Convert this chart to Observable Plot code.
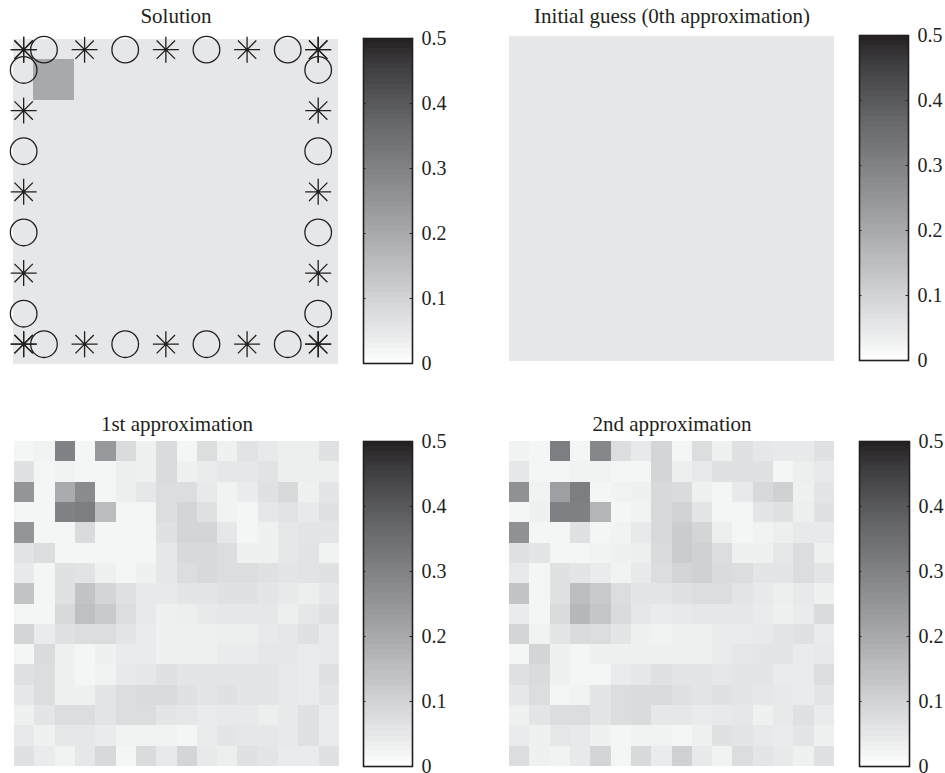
<!DOCTYPE html>
<html><head><meta charset="utf-8">
<script src="https://cdn.jsdelivr.net/npm/d3@7"></script>
<script src="https://cdn.jsdelivr.net/npm/@observablehq/plot@0.6"></script>
<style>
body{margin:0;background:#fff;}
#root{position:relative;width:945px;height:773px;overflow:hidden;}
</style></head><body><div id="root"></div>
<script>
// ---------- data ----------
const panelTitles = ["Solution", "Initial guess (0th approximation)", "1st approximation", "2nd approximation"];
const colorTicks = [0, 0.1, 0.2, 0.3, 0.4, 0.5];
const colorTickLabels = ["0", "0.1", "0.2", "0.3", "0.4", "0.5"];
// gray ramp (0% .. 100% black in 5% steps) mapped onto 0 .. 0.5
const grayRamp = ["#ffffff","#f1f2f2","#e6e7e8","#dcddde","#d1d3d4","#c7c8ca","#bcbec0","#b1b3b6","#a7a9ac","#9d9fa2","#939598","#898b8e","#808285","#77787b","#6d6e71","#636466","#58595b","#4d4d4f","#414042","#333132","#231f20"];

const solution = [
[0.05,0.05,0.05,0.05,0.05,0.05,0.05,0.05,0.05,0.05,0.05,0.05,0.05,0.05,0.05,0.05],
[0.05,0.2,0.2,0.05,0.05,0.05,0.05,0.05,0.05,0.05,0.05,0.05,0.05,0.05,0.05,0.05],
[0.05,0.2,0.2,0.05,0.05,0.05,0.05,0.05,0.05,0.05,0.05,0.05,0.05,0.05,0.05,0.05],
[0.05,0.05,0.05,0.05,0.05,0.05,0.05,0.05,0.05,0.05,0.05,0.05,0.05,0.05,0.05,0.05],
[0.05,0.05,0.05,0.05,0.05,0.05,0.05,0.05,0.05,0.05,0.05,0.05,0.05,0.05,0.05,0.05],
[0.05,0.05,0.05,0.05,0.05,0.05,0.05,0.05,0.05,0.05,0.05,0.05,0.05,0.05,0.05,0.05],
[0.05,0.05,0.05,0.05,0.05,0.05,0.05,0.05,0.05,0.05,0.05,0.05,0.05,0.05,0.05,0.05],
[0.05,0.05,0.05,0.05,0.05,0.05,0.05,0.05,0.05,0.05,0.05,0.05,0.05,0.05,0.05,0.05],
[0.05,0.05,0.05,0.05,0.05,0.05,0.05,0.05,0.05,0.05,0.05,0.05,0.05,0.05,0.05,0.05],
[0.05,0.05,0.05,0.05,0.05,0.05,0.05,0.05,0.05,0.05,0.05,0.05,0.05,0.05,0.05,0.05],
[0.05,0.05,0.05,0.05,0.05,0.05,0.05,0.05,0.05,0.05,0.05,0.05,0.05,0.05,0.05,0.05],
[0.05,0.05,0.05,0.05,0.05,0.05,0.05,0.05,0.05,0.05,0.05,0.05,0.05,0.05,0.05,0.05],
[0.05,0.05,0.05,0.05,0.05,0.05,0.05,0.05,0.05,0.05,0.05,0.05,0.05,0.05,0.05,0.05],
[0.05,0.05,0.05,0.05,0.05,0.05,0.05,0.05,0.05,0.05,0.05,0.05,0.05,0.05,0.05,0.05],
[0.05,0.05,0.05,0.05,0.05,0.05,0.05,0.05,0.05,0.05,0.05,0.05,0.05,0.05,0.05,0.05],
[0.05,0.05,0.05,0.05,0.05,0.05,0.05,0.05,0.05,0.05,0.05,0.05,0.05,0.05,0.05,0.05]
];

const initialGuess = [
[0.05,0.05,0.05,0.05,0.05,0.05,0.05,0.05,0.05,0.05,0.05,0.05,0.05,0.05,0.05,0.05],
[0.05,0.05,0.05,0.05,0.05,0.05,0.05,0.05,0.05,0.05,0.05,0.05,0.05,0.05,0.05,0.05],
[0.05,0.05,0.05,0.05,0.05,0.05,0.05,0.05,0.05,0.05,0.05,0.05,0.05,0.05,0.05,0.05],
[0.05,0.05,0.05,0.05,0.05,0.05,0.05,0.05,0.05,0.05,0.05,0.05,0.05,0.05,0.05,0.05],
[0.05,0.05,0.05,0.05,0.05,0.05,0.05,0.05,0.05,0.05,0.05,0.05,0.05,0.05,0.05,0.05],
[0.05,0.05,0.05,0.05,0.05,0.05,0.05,0.05,0.05,0.05,0.05,0.05,0.05,0.05,0.05,0.05],
[0.05,0.05,0.05,0.05,0.05,0.05,0.05,0.05,0.05,0.05,0.05,0.05,0.05,0.05,0.05,0.05],
[0.05,0.05,0.05,0.05,0.05,0.05,0.05,0.05,0.05,0.05,0.05,0.05,0.05,0.05,0.05,0.05],
[0.05,0.05,0.05,0.05,0.05,0.05,0.05,0.05,0.05,0.05,0.05,0.05,0.05,0.05,0.05,0.05],
[0.05,0.05,0.05,0.05,0.05,0.05,0.05,0.05,0.05,0.05,0.05,0.05,0.05,0.05,0.05,0.05],
[0.05,0.05,0.05,0.05,0.05,0.05,0.05,0.05,0.05,0.05,0.05,0.05,0.05,0.05,0.05,0.05],
[0.05,0.05,0.05,0.05,0.05,0.05,0.05,0.05,0.05,0.05,0.05,0.05,0.05,0.05,0.05,0.05],
[0.05,0.05,0.05,0.05,0.05,0.05,0.05,0.05,0.05,0.05,0.05,0.05,0.05,0.05,0.05,0.05],
[0.05,0.05,0.05,0.05,0.05,0.05,0.05,0.05,0.05,0.05,0.05,0.05,0.05,0.05,0.05,0.05],
[0.05,0.05,0.05,0.05,0.05,0.05,0.05,0.05,0.05,0.05,0.05,0.05,0.05,0.05,0.05,0.05],
[0.05,0.05,0.05,0.05,0.05,0.05,0.05,0.05,0.05,0.05,0.05,0.05,0.05,0.05,0.05,0.05]
];

const approx1 = [
[0.02,0.025,0.3,0.02,0.24,0.08,0.03,0.08,0.02,0.075,0.03,0.06,0.045,0.035,0.035,0.065],
[0.065,0.02,0.025,0.02,0.02,0.035,0.03,0.08,0.03,0.04,0.05,0.05,0.06,0.035,0.035,0.035],
[0.25,0.02,0.195,0.275,0.02,0.035,0.05,0.075,0.075,0.045,0.025,0.04,0.065,0.085,0.03,0.055],
[0.02,0.02,0.3,0.31,0.155,0.02,0.02,0.075,0.095,0.065,0.025,0.02,0.05,0.06,0.045,0.065],
[0.25,0.02,0.02,0.08,0.02,0.02,0.02,0.065,0.095,0.095,0.05,0.02,0.03,0.05,0.055,0.055],
[0.06,0.075,0.02,0.02,0.02,0.02,0.02,0.05,0.085,0.085,0.075,0.03,0.03,0.05,0.06,0.025],
[0.045,0.02,0.065,0.06,0.03,0.02,0.03,0.05,0.075,0.085,0.075,0.075,0.065,0.055,0.06,0.065],
[0.135,0.02,0.065,0.135,0.095,0.065,0.045,0.045,0.055,0.055,0.065,0.065,0.055,0.045,0.035,0.05],
[0.02,0.02,0.085,0.145,0.12,0.075,0.045,0.03,0.035,0.045,0.05,0.05,0.05,0.035,0.05,0.065],
[0.095,0.04,0.065,0.075,0.075,0.055,0.04,0.03,0.03,0.03,0.035,0.035,0.045,0.05,0.065,0.045],
[0.02,0.08,0.03,0.02,0.03,0.04,0.04,0.03,0.03,0.03,0.04,0.04,0.05,0.05,0.04,0.045],
[0.065,0.075,0.03,0.02,0.025,0.045,0.05,0.065,0.055,0.055,0.055,0.055,0.055,0.045,0.04,0.065],
[0.05,0.075,0.03,0.03,0.055,0.075,0.08,0.08,0.065,0.055,0.065,0.055,0.055,0.045,0.04,0.055],
[0.03,0.055,0.075,0.075,0.055,0.075,0.075,0.055,0.05,0.04,0.045,0.045,0.035,0.045,0.065,0.04],
[0.045,0.03,0.05,0.05,0.04,0.025,0.025,0.025,0.02,0.04,0.055,0.05,0.05,0.045,0.065,0.04],
[0.065,0.04,0.025,0.05,0.085,0.02,0.08,0.045,0.095,0.045,0.035,0.065,0.055,0.04,0.04,0.065]
];

const approx2 = [
[0.025,0.02,0.31,0.02,0.285,0.075,0.045,0.095,0.02,0.075,0.03,0.065,0.05,0.045,0.045,0.065],
[0.05,0.02,0.02,0.025,0.025,0.02,0.02,0.095,0.035,0.045,0.065,0.065,0.065,0.02,0.035,0.045],
[0.26,0.025,0.225,0.31,0.02,0.025,0.03,0.085,0.08,0.03,0.02,0.045,0.085,0.105,0.03,0.055],
[0.02,0.03,0.305,0.305,0.17,0.02,0.025,0.085,0.1,0.055,0.02,0.02,0.055,0.065,0.035,0.065],
[0.26,0.02,0.02,0.065,0.02,0.025,0.045,0.085,0.115,0.095,0.035,0.02,0.025,0.035,0.045,0.045],
[0.065,0.055,0.02,0.02,0.025,0.03,0.035,0.08,0.115,0.105,0.075,0.03,0.03,0.05,0.075,0.03],
[0.045,0.02,0.065,0.055,0.04,0.025,0.045,0.075,0.095,0.105,0.08,0.075,0.055,0.055,0.075,0.055],
[0.135,0.02,0.065,0.15,0.12,0.075,0.055,0.055,0.065,0.075,0.075,0.055,0.045,0.035,0.045,0.03],
[0.04,0.02,0.08,0.165,0.13,0.08,0.05,0.04,0.045,0.05,0.05,0.05,0.04,0.03,0.04,0.08],
[0.095,0.025,0.055,0.08,0.075,0.055,0.03,0.025,0.03,0.03,0.04,0.04,0.045,0.055,0.065,0.04],
[0.02,0.095,0.03,0.02,0.03,0.03,0.03,0.03,0.03,0.03,0.04,0.05,0.055,0.055,0.04,0.045],
[0.065,0.08,0.03,0.02,0.02,0.04,0.05,0.065,0.055,0.055,0.05,0.055,0.055,0.04,0.04,0.075],
[0.05,0.075,0.02,0.025,0.055,0.075,0.08,0.08,0.065,0.055,0.065,0.055,0.05,0.045,0.04,0.055],
[0.03,0.055,0.075,0.075,0.055,0.075,0.08,0.05,0.05,0.04,0.045,0.05,0.03,0.045,0.065,0.04],
[0.04,0.03,0.05,0.045,0.03,0.02,0.025,0.025,0.02,0.03,0.065,0.055,0.045,0.04,0.055,0.03],
[0.075,0.03,0.025,0.045,0.095,0.02,0.085,0.04,0.105,0.045,0.025,0.075,0.055,0.045,0.03,0.065]
];

// source / detector markers along each edge (grid units, 0..16)
const markerAlong = [0.5, 1.5, 3.5, 5.5, 7.5, 9.5, 11.5, 13.5, 15];
const markerKind  = ["asterisk","circle","asterisk","circle","asterisk","circle","asterisk","circle","asterisk"];
const edgeNear = 0.5, edgeFar = 15;

// ---------- layout ----------
const W = 945, H = 773;
const FONT = "'Liberation Serif', 'DejaVu Serif', serif";
const INK = "#231f20";
const panels = [
  {data: solution,     img: {x0: 13,  x1: 338, y0: 39,  y1: 364}, bar: {x0: 363, x1: 412, y0: 38,  y1: 363}, base: 22,  markers: true},
  {data: initialGuess, img: {x0: 509, x1: 834, y0: 36,  y1: 361}, bar: {x0: 859, x1: 908, y0: 35,  y1: 360}, base: 22,  markers: false},
  {data: approx1,      img: {x0: 14,  x1: 339, y0: 441, y1: 766}, bar: {x0: 363, x1: 412, y0: 441, y1: 766}, base: 430, markers: false},
  {data: approx2,      img: {x0: 509, x1: 834, y0: 441, y1: 766}, bar: {x0: 859, x1: 909, y0: 441, y1: 766}, base: 430, markers: false}
];

const colorScale = {type: "linear", domain: [0, 0.5], clamp: true,
  interpolate: d3.piecewise(d3.interpolateRgb, grayRamp)};

const cells = rows => rows.flatMap((r, i) => r.map((v, j) => ({row: i, col: j, v})));

const markers = [];
markerAlong.forEach((p, i) => {
  const k = markerKind[i];
  markers.push({x: p, y: edgeNear, k}, {x: p, y: edgeFar, k}, {x: edgeNear, y: p, k}, {x: edgeFar, y: p, k});
});

const asterisk = {
  draw(ctx, size) {
    const r = Math.sqrt(size / Math.PI), d = r * Math.SQRT1_2;
    ctx.moveTo(-r, 0); ctx.lineTo(r, 0);
    ctx.moveTo(0, -r); ctx.lineTo(0, r);
    ctx.moveTo(-d, -d); ctx.lineTo(d, d);
    ctx.moveTo(-d, d); ctx.lineTo(d, -d);
  }
};

const baseStyle = {position: "absolute", left: "0px", top: "0px", background: "transparent", overflow: "visible", fontFamily: FONT, fontSize: "20px", color: INK};

const root = document.getElementById("root");

// colorbar steps (64-level colormap)
const nLevels = 64;
const levels = d3.range(nLevels).map(i => ({lo: i * 0.5 / nLevels, hi: (i + 1) * 0.5 / nLevels, mid: (i + 0.5) * 0.5 / nLevels}));
const innerTicks = colorTicks.slice(1, -1);

panels.forEach((p, idx) => {
  const b = p.img;
  const marks = [
    Plot.rect(cells(p.data), {x1: "col", x2: d => d.col + 1, y1: "row", y2: d => d.row + 1, fill: "v", shapeRendering: "crispEdges"}),
    Plot.text([panelTitles[idx]], {frameAnchor: "top", dy: p.base - b.y0, lineAnchor: "bottom", fontSize: 21, fill: INK, fontFamily: FONT})
  ];
  if (p.markers) {
    marks.push(
      Plot.dot(markers.filter(d => d.k === "circle"), {x: "x", y: "y", r: 13.3, symbol: "circle", fill: "none", stroke: INK, strokeWidth: 1.3}),
      Plot.dot(markers.filter(d => d.k === "asterisk"), {x: "x", y: "y", r: 13, symbol: asterisk, fill: "none", stroke: INK, strokeWidth: 1.3}),
      Plot.dot(markers.filter(d => d.k === "asterisk"), {x: "x", y: "y", r: 1.6, fill: INK, stroke: "none"})
    );
  }
  const img = Plot.plot({
    width: W, height: H,
    marginLeft: b.x0, marginRight: W - b.x1, marginTop: b.y0, marginBottom: H - b.y1,
    x: {domain: [0, 16], axis: null},
    y: {domain: [0, 16], reverse: true, axis: null},
    color: colorScale,
    style: baseStyle,
    marks
  });
  root.appendChild(img);

  const c = p.bar;
  const bar = Plot.plot({
    width: W, height: H,
    marginLeft: c.x0, marginRight: W - c.x1, marginTop: c.y0, marginBottom: H - c.y1,
    x: {domain: [0, 1], axis: null},
    y: {domain: [0, 0.5]},
    color: colorScale,
    style: baseStyle,
    marks: [
      Plot.rect(levels, {x1: 0, x2: 1, y1: "lo", y2: "hi", fill: "mid", shapeRendering: "crispEdges"}),
      Plot.ruleY(innerTicks, {x1: 0, x2: 0.05, stroke: INK, strokeWidth: 1}),
      Plot.ruleY(innerTicks, {x1: 0.95, x2: 1, stroke: INK, strokeWidth: 1}),
      Plot.frame({stroke: INK, strokeWidth: 1.6}),
      Plot.axisY(colorTicks, {anchor: "right", tickSize: 0, tickPadding: 9, fontSize: 20, fill: INK, label: null, fontFamily: FONT,
        tickFormat: d => colorTickLabels[colorTicks.indexOf(d)]})
    ]
  });
  root.appendChild(bar);
});
</script></body></html>
